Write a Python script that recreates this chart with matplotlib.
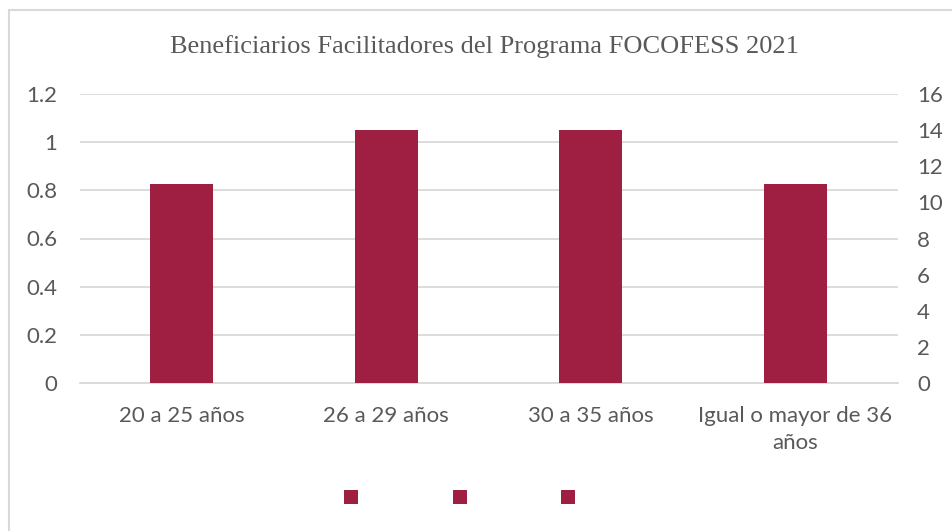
import matplotlib.pyplot as plt
from matplotlib.patches import Rectangle

# Datos
categorias = ["20 a 25 años", "26 a 29 años", "30 a 35 años", "Igual o mayor de 36\naños"]
beneficiarios = [11, 14, 14, 11]
ticks_izq = [0, 0.2, 0.4, 0.6, 0.8, 1, 1.2]
etiquetas_izq = ["0", "0.2", "0.4", "0.6", "0.8", "1", "1.2"]
ticks_der = [0, 2, 4, 6, 8, 10, 12, 14, 16]

color_barra = '#9E1F42'
color_texto = '#595959'
color_grid = '#D9D9D9'


def main():
    fig = plt.figure(figsize=(9.52, 5.31), dpi=100)
    W, H = 952, 531

    # marco del grafico
    fig.patches.append(Rectangle((8.5 / W, -0.1), 1.2, 1 - 9.5 / H + 0.1,
                                 transform=fig.transFigure, fill=False,
                                 edgecolor=color_grid, linewidth=1.5))

    ax = fig.add_axes([79.5 / W, 1 - 383 / H, 818 / W, 289 / H])
    ax2 = ax.twinx()

    x = list(range(len(categorias)))
    ax2.bar(x, beneficiarios, width=0.31, color=color_barra, zorder=3)

    ax.set_xlim(-0.5, len(categorias) - 0.5)
    ax.set_ylim(0, 1.2)
    ax2.set_ylim(0, 16)
    ax.set_yticks(ticks_izq)
    ax.set_yticklabels(etiquetas_izq)
    ax2.set_yticks(ticks_der)
    ax.set_xticks(x)
    ax.set_xticklabels(categorias, linespacing=1.45)

    ax.grid(True, axis='y', color=color_grid, linewidth=1.3)
    ax.set_axisbelow(True)
    for a in (ax, ax2):
        for s in a.spines.values():
            s.set_visible(False)
        a.tick_params(length=0, labelsize=16, labelcolor=color_texto)
        for t in a.get_xticklabels() + a.get_yticklabels():
            t.set_fontfamily('Lato')
    ax.tick_params(axis='y', pad=16)
    ax.tick_params(axis='x', pad=16.5)
    ax2.tick_params(axis='y', pad=14)
    ax.spines['bottom'].set_visible(True)
    ax.spines['bottom'].set_color(color_grid)
    ax.spines['bottom'].set_linewidth(1.3)

    fig.text(484 / W, 1 - 47 / H, "Beneficiarios Facilitadores del Programa FOCOFESS 2021",
             ha='center', va='center', fontsize=19, color=color_texto,
             fontfamily='Liberation Serif')

    # leyenda sin etiquetas
    for xl in (351, 460, 568):
        fig.patches.append(Rectangle(((xl - 7) / W, 1 - 504 / H), 14 / W, 14 / H,
                                     transform=fig.transFigure,
                                     facecolor=color_barra, edgecolor='none'))

    fig.savefig('out.png', dpi=100)


if __name__ == '__main__':
    main()
